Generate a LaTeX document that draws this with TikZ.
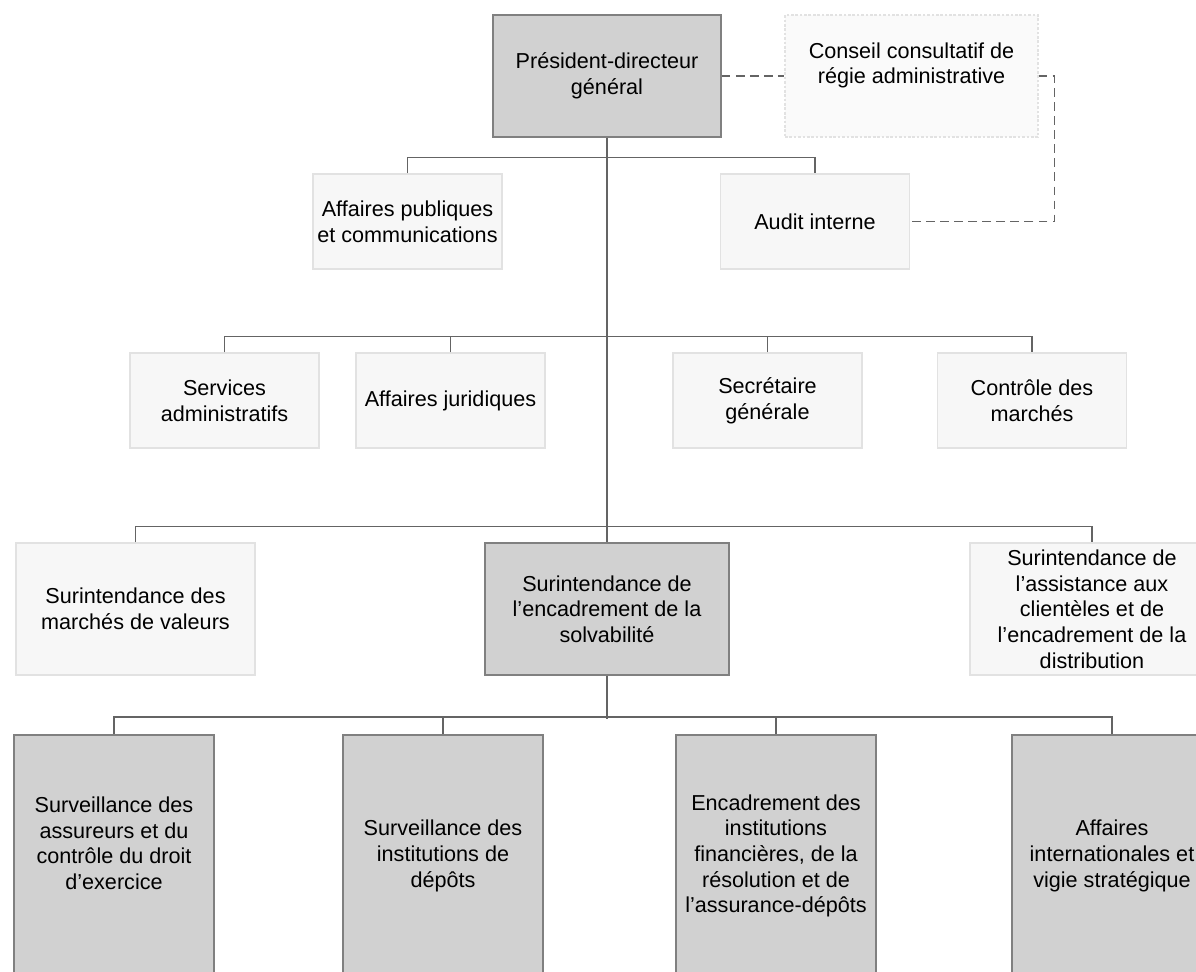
\documentclass[tikz,border=0pt]{standalone}
\usepackage{fontspec}
\setmainfont{Liberation Sans}
\usepackage{tikz}
\definecolor{boxgray}{RGB}{209, 209, 209}
\definecolor{boxedge}{RGB}{128, 128, 128}
\definecolor{paleunit}{RGB}{247, 247, 247}
\definecolor{paleedge}{RGB}{226, 226, 226}
\definecolor{linkgray}{RGB}{100, 100, 100}
\newcommand{\orgfont}{\fontsize{12.3}{14.6}\selectfont}

\begin{document}
\begin{tikzpicture}[
    mainunit/.style={draw=boxedge, fill=boxgray, line width=0.8pt, inner sep=0pt,
        align=center, font=\orgfont},
    paleunit/.style={draw=paleedge, fill=paleunit, line width=0.6pt, inner sep=0pt,
        align=center, font=\orgfont},
    advisory/.style={paleunit, fill=paleunit!60, draw=paleedge, dash pattern=on 1.5pt off 1pt},
    small/.style={minimum width=3.78cm, minimum height=1.9cm},
    wide/.style={minimum width=4.88cm, minimum height=2.64cm},
    tall/.style={minimum width=4cm, minimum height=4.84cm},
    link/.style={draw=linkgray, line width=1pt},
    dashlink/.style={draw=linkgray, line width=1pt, dash pattern=on 5pt off 3pt}
]
\useasboundingbox (0,0) rectangle (23.92,-19.44);

\node[mainunit, minimum width=4.56cm, minimum height=2.44cm] (pdg) at (12.14,-1.52)
    {Président-directeur\\général};
\node[advisory, minimum width=5.06cm, minimum height=2.44cm] (conseil) at (18.23,-1.52)
    {Conseil consultatif de\\régie administrative\\ ~};

\node[paleunit, small] (affpub) at (8.15,-4.43) {Affaires publiques\\et communications};
\node[paleunit, small] (audit) at (16.30,-4.43) {Audit interne};

\node[paleunit, small] (services) at (4.49,-8.01) {Services\\administratifs};
\node[paleunit, small] (juridiques) at (9.01,-8.01) {Affaires juridiques};
\node[paleunit, small] (secretaire) at (15.35,-8.01) {Secrétaire\\générale};
\node[paleunit, small] (controle) at (20.64,-8.01) {Contrôle des\\marchés};

\node[paleunit, wide, minimum width=4.78cm] (valeurs) at (2.71,-12.18)
    {Surintendance des\\marchés de valeurs};
\node[mainunit, wide] (solva) at (12.14,-12.18)
    {Surintendance de\\l’encadrement de la\\solvabilité};
\node[paleunit, wide] (clienteles) at (21.84,-12.18)
    {Surintendance de\\l’assistance aux\\clientèles et de\\l’encadrement de la\\distribution};

\node[mainunit, tall] (assureurs) at (2.28,-17.12)
    {Surveillance des\\assureurs et du\\contrôle du droit\\d’exercice\\ ~};
\node[mainunit, tall] (depots) at (8.86,-17.12)
    {Surveillance des\\institutions de\\dépôts};
\node[mainunit, tall] (institutions) at (15.52,-17.12)
    {Encadrement des\\institutions\\financières, de la\\résolution et de\\l’assurance-dépôts};
\node[mainunit, tall] (internat) at (22.24,-17.12)
    {Affaires\\internationales et\\vigie stratégique};

\draw[link] (pdg.south) -- (solva.north);
\draw[link] (affpub.north) -- ++(0,0.32) -| (audit.north);
\draw[link] (services.north) -- ++(0,0.32) -| (controle.north);
\draw[link] (juridiques.north) -- ++(0,0.32);
\draw[link] (secretaire.north) -- ++(0,0.32);
\draw[link] (valeurs.north) -- ++(0,0.32) -| (clienteles.north);
\draw[link] (solva.south) -- ++(0,-0.86);
\draw[link] (assureurs.north) -- ++(0,0.34) -| (internat.north);
\draw[link] (depots.north) -- ++(0,0.34);
\draw[link] (institutions.north) -- ++(0,0.34);

\draw[dashlink] (pdg.east) -- (conseil.west);
\draw[dashlink] (conseil.east) -- ++(0.32,0) |- (audit.east);

\end{tikzpicture}
\end{document}
